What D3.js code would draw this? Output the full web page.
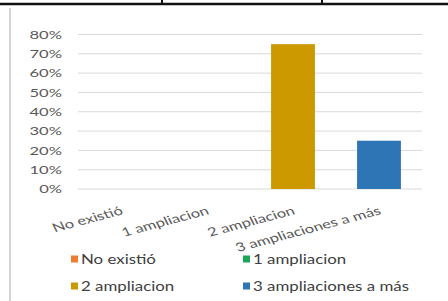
<!DOCTYPE html>
<html><head><meta charset="utf-8">
<script src="https://cdn.jsdelivr.net/npm/d3@7/dist/d3.min.js"></script>
<style>body{margin:0;background:#fff;} svg{display:block;font-family:Lato,"Open Sans",sans-serif;}</style>
</head><body>
<svg id="c" width="448" height="301"></svg>
<script>
const categories = ["No existió", "1 ampliacion", "2 ampliacion", "3 ampliaciones a más"];
const values = [0, 0, 0.75, 0.25];
const colors = ["#ED7D31", "#1BA65A", "#CC9900", "#2E75B6"];
const yTicks = [0, 0.1, 0.2, 0.3, 0.4, 0.5, 0.6, 0.7, 0.8];

const SX = 1.38; // horizontal stretch of text seen in the reference
const svg = d3.select("#c");
// frame remnants
svg.append("line").attr("x1",0).attr("x2",448).attr("y1",4).attr("y2",4).attr("stroke","#111").attr("stroke-width",2.5);
[162,322].forEach(x=>svg.append("line").attr("x1",x).attr("x2",x).attr("y1",0).attr("y2",5).attr("stroke","#111").attr("stroke-width",2));
svg.append("line").attr("x1",10).attr("x2",10).attr("y1",8).attr("y2",301).attr("stroke","#d4d4d4").attr("stroke-width",2);

const x = d3.scaleBand().domain(categories).range([78,422]).paddingInner(0.49).paddingOuter(0.245);
const y = d3.scaleLinear().domain([0,0.8]).range([189,34.5]);

const g = svg.append("g");
g.selectAll("line.grid").data(yTicks).join("line").attr("class","grid")
  .attr("x1",78).attr("x2",422).attr("y1",d=>y(d)).attr("y2",d=>y(d))
  .attr("stroke","#d9d9d9").attr("stroke-width",1);
g.selectAll("g.yt").data(yTicks).join("g").attr("class","yt")
  .attr("transform",d=>`translate(62,${y(d)}) scale(${SX},1)`)
  .append("text").attr("dy","0.35em").attr("text-anchor","end")
  .attr("font-size",12).attr("fill","#595959").text(d=>d3.format(".0%")(d));

g.selectAll("rect.bar").data(categories).join("rect").attr("class","bar")
  .attr("x",d=>x(d)).attr("width",x.bandwidth())
  .attr("y",(d,i)=>y(values[i])).attr("height",(d,i)=>y(0)-y(values[i]))
  .attr("fill",(d,i)=>colors[i]);

g.selectAll("g.xl").data(categories).join("g").attr("class","xl")
  .attr("transform",d=>`translate(${x(d)+x.bandwidth()/2+3},214) scale(${SX},1) rotate(-20)`)
  .append("text").attr("text-anchor","end")
  .attr("font-size",12).attr("fill","#595959").text(d=>d);

// legend
const lx = [71, 243], ly = [259, 286];
const lg = svg.selectAll("g.leg").data(categories).join("g").attr("class","leg")
  .attr("transform",(d,i)=>`translate(${lx[i%2]},${ly[Math.floor(i/2)]})`);
lg.append("rect").attr("x",0).attr("y",-3.5).attr("width",7).attr("height",7).attr("fill",(d,i)=>colors[i]);
lg.append("g").attr("transform",`translate(10,0) scale(${SX-0.03},1)`)
  .append("text").attr("dy","0.36em").attr("font-size",12.5).attr("fill","#404040").text(d=>d);
</script>
</body></html>
